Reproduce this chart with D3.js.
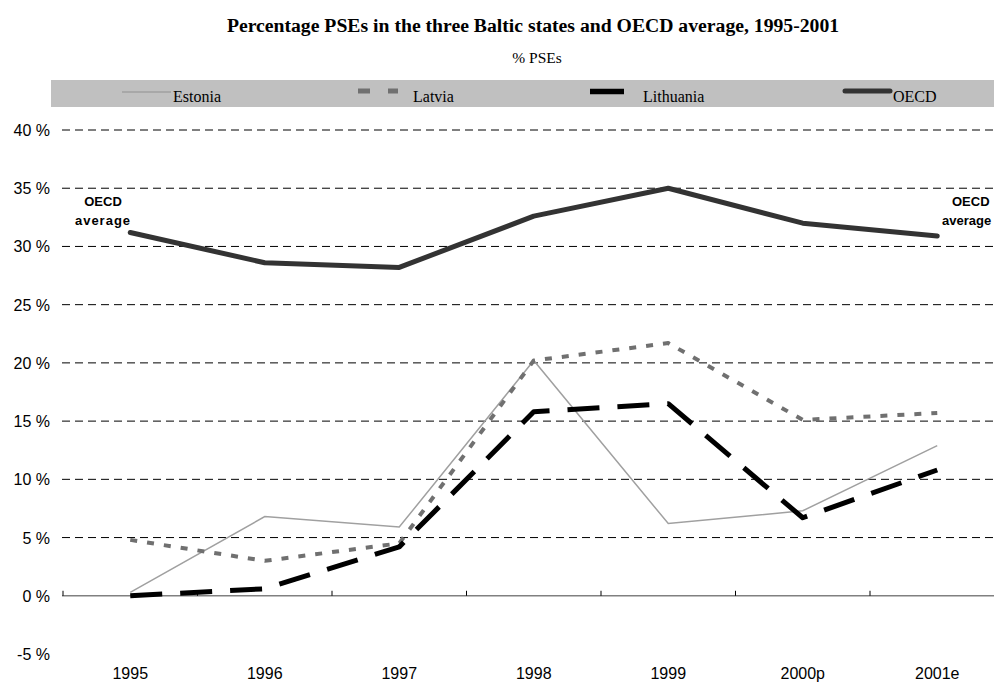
<!DOCTYPE html>
<html><head><meta charset="utf-8">
<script src="https://cdn.jsdelivr.net/npm/d3@7"></script>
<style>body{margin:0;background:#fff}svg{display:block}</style>
</head><body>
<svg id="c" width="994" height="684"></svg>
<script>
const years = ["1995","1996","1997","1998","1999","2000p","2001e"];
const estonia   = [0.3, 6.8, 5.9, 20.2, 6.2, 7.3, 12.9];
const latvia    = [4.8, 3.0, 4.5, 20.2, 21.7, 15.1, 15.7];
const lithuania = [0.0, 0.6, 4.2, 15.8, 16.5, 6.7, 10.8];
const oecd      = [31.2, 28.6, 28.2, 32.6, 35.0, 32.0, 30.9];
const yTicks = [-5, 0, 5, 10, 15, 20, 25, 30, 35, 40];
const seriesNames = ["Estonia", "Latvia", "Lithuania", "OECD"];

const svg = d3.select("#c");
const left = 63, right = 1004.5;
const x = d3.scaleBand().domain(years).range([left, right]);
const y = d3.scaleLinear().domain([-5, 40]).range([654, 130]);
const serif = "Liberation Serif, Times New Roman, serif";
const sans = "Liberation Sans, Arial, sans-serif";

// title
svg.append("text").attr("x", 533).attr("y", 32).attr("text-anchor", "middle")
  .attr("font-family", serif).attr("font-weight", "bold")
  .attr("font-size", 19.7).text("Percentage PSEs in the three Baltic states and OECD average, 1995-2001");
svg.append("text").attr("x", 537).attr("y", 63).attr("text-anchor", "middle")
  .attr("font-family", serif).attr("font-size", 15.5).text("% PSEs");

// legend band
svg.append("rect").attr("x", 51).attr("y", 80).attr("width", 943).attr("height", 27).attr("fill", "#c0c0c0");

const styles = {
  Estonia:   {stroke: "#a0a0a0", width: 1.5, dash: null},
  Latvia:    {stroke: "#707070", width: 4, dash: "7,10"},
  Lithuania: {stroke: "#000000", width: 5, dash: "32,18"},
  OECD:      {stroke: "#333333", width: 5, dash: null}
};
const legendPos = [
  {x0: 122, x1: 171, y: 92, tx: 173, w: 1.5, dash: null},
  {x0: 358, x1: 398, y: 91, tx: 413, w: 5, dash: "12,18"},
  {x0: 590, x1: 624, y: 91.5, tx: 643, w: 5.5, dash: null},
  {x0: 845, x1: 890, y: 91, tx: 893, w: 5, dash: null}
];
seriesNames.forEach((n, i) => {
  const p = legendPos[i], s = styles[n];
  svg.append("line").attr("x1", p.x0).attr("x2", p.x1).attr("y1", p.y).attr("y2", p.y)
    .attr("stroke", s.stroke).attr("stroke-width", p.w)
    .attr("stroke-dasharray", p.dash)
    .attr("stroke-linecap", n === "OECD" ? "round" : "butt");
  svg.append("text").attr("x", p.tx).attr("y", 102)
    .attr("font-family", serif).attr("font-size", 16).text(n);
});

// grid
const grid = svg.append("g");
yTicks.filter(t => t > 0).forEach(t => {
  grid.append("line").attr("x1", 62).attr("x2", 994).attr("y1", y(t)).attr("y2", y(t))
    .attr("stroke", "#000").attr("stroke-width", 1).attr("stroke-dasharray", "8,5");
});
// y labels
yTicks.forEach(t => {
  svg.append("text").attr("x", 50).attr("y", y(t) + 6).attr("text-anchor", "end")
    .attr("font-family", sans).attr("font-size", 16).text(t + " %");
});

// x axis at 0
const xa = svg.append("g");
xa.append("line").attr("x1", 62).attr("x2", 994).attr("y1", y(0)).attr("y2", y(0))
  .attr("stroke", "#808080").attr("stroke-width", 1.5);
years.forEach((yr, i) => {
  const bx = x(yr);
  xa.append("line").attr("x1", bx).attr("x2", bx).attr("y1", y(0)).attr("y2", y(0) - 5)
    .attr("stroke", "#000").attr("stroke-width", 1);
  svg.append("text").attr("x", bx + x.bandwidth() / 2).attr("y", 679).attr("text-anchor", "middle")
    .attr("font-family", sans).attr("font-size", 16).text(yr);
});

// lines
const line = d3.line().x((d, i) => x(years[i]) + x.bandwidth() / 2).y(d => y(d));
const data = {Estonia: estonia, Latvia: latvia, Lithuania: lithuania, OECD: oecd};
seriesNames.forEach(n => {
  const s = styles[n];
  svg.append("path").attr("d", line(data[n])).attr("fill", "none")
    .attr("stroke", s.stroke).attr("stroke-width", s.width)
    .attr("stroke-dasharray", s.dash)
    .attr("stroke-linejoin", n === "Estonia" ? "miter" : "round")
    .attr("stroke-linecap", n === "OECD" ? "round" : "butt");
});

// OECD average labels
const addLab = (xx, yy, t, anchor, ls) => svg.append("text").attr("x", xx).attr("y", yy)
  .attr("text-anchor", anchor).attr("font-family", sans).attr("font-weight", "bold")
  .attr("font-size", 13).attr("letter-spacing", ls).text(t);
addLab(103, 206, "OECD", "middle", 0);
addLab(103, 225, "average", "middle", 1);
addLab(952, 206, "OECD", "start", 0);
addLab(942, 225, "average", "start", 0);
</script>
</body></html>
